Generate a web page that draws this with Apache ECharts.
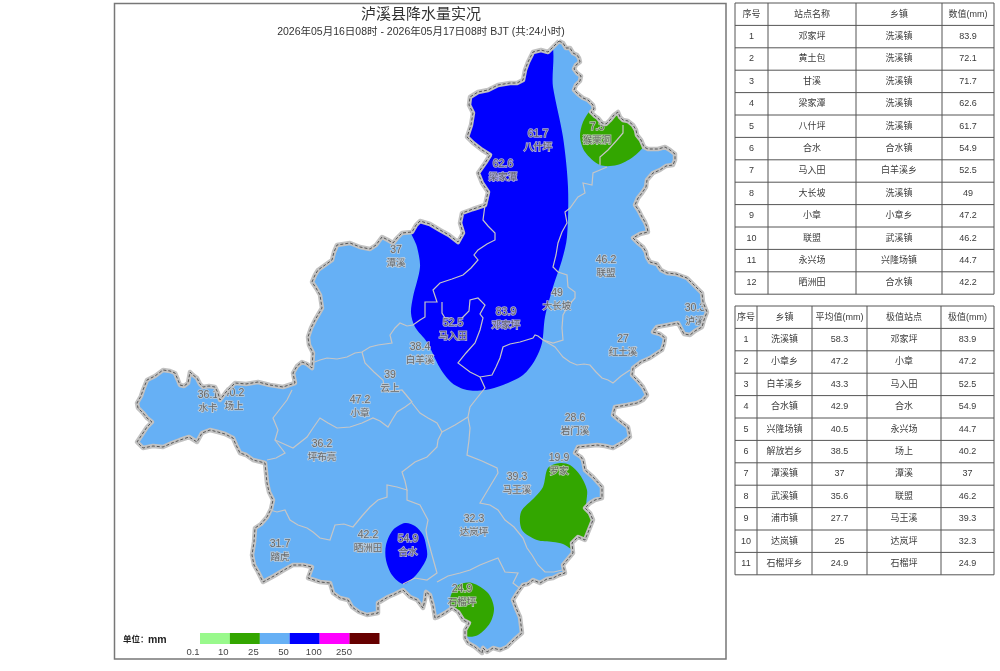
<!DOCTYPE html>
<html>
<head>
<meta charset="utf-8">
<title>泸溪县降水量实况</title>
<style>
  html, body { margin: 0; padding: 0; background: #fff; }
  #main { width: 1000px; height: 671px; }
</style>
<script src="https://cdn.jsdelivr.net/npm/echarts@6/dist/echarts.min.js"></script>
</head>
<body>
<div id="main"></div>
<script>
// 标题
var titleText = '泸溪县降水量实况';
var subTitleText = '2026年05月16日08时 - 2026年05月17日08时 BJT (共:24小时)';

// 县界
var countyLine = [[559,41],[563,43],[566,48],[570,48],[573,53],[577,55],[579,58],[580,62],[576,65],[574,69],[577,73],[581,76],[580,81],[576,85],[574,90],[578,94],[583,98],[588,100],[593,105],[594,109],[591,112],[595,116],[598,118],[602,123],[606,124],[610,120],[614,115],[618,112],[620,117],[623,120],[628,121],[633,125],[636,130],[637,135],[641,140],[644,147],[648,149],[652,149],[658,149],[665,147],[670,150],[675,154],[675,160],[673,165],[666,166],[660,170],[653,173],[647,180],[646,187],[642,193],[638,198],[635,205],[639,211],[642,217],[645,222],[647,227],[648,232],[640,234],[633,238],[638,243],[643,247],[646,252],[647,257],[650,262],[657,264],[661,270],[667,273],[676,274],[687,278],[693,284],[702,293],[703,302],[707,312],[704,320],[702,327],[695,331],[690,335],[684,334],[678,323],[668,325],[657,327],[653,332],[660,334],[665,338],[664,344],[662,350],[656,354],[650,358],[641,362],[633,368],[632,375],[638,381],[643,387],[647,395],[643,400],[637,403],[627,405],[615,407],[613,415],[620,421],[628,427],[630,437],[622,443],[613,448],[605,446],[597,445],[588,446],[578,447],[575,453],[581,457],[583,460],[585,470],[593,477],[602,487],[602,493],[602,498],[595,500],[590,503],[585,508],[590,513],[593,520],[589,530],[585,540],[578,537],[572,543],[573,553],[568,559],[563,565],[565,573],[559,575],[553,578],[547,579],[540,583],[533,580],[528,584],[523,585],[518,592],[513,600],[516,608],[520,617],[521,625],[522,633],[514,640],[507,647],[500,650],[493,648],[487,652],[483,648],[482,653],[475,647],[468,643],[465,638],[465,630],[469,623],[463,620],[458,612],[452,608],[445,613],[438,617],[435,618],[433,606],[430,595],[426,592],[425,600],[423,608],[417,600],[410,597],[403,590],[395,594],[388,597],[378,603],[378,613],[367,615],[359,612],[352,607],[348,600],[340,598],[333,593],[330,583],[320,582],[308,578],[312,567],[303,565],[293,565],[284,570],[274,576],[263,582],[258,572],[254,565],[252,555],[254,542],[255,528],[261,524],[267,517],[271,509],[273,500],[269,492],[267,483],[266,473],[265,463],[253,460],[246,455],[240,453],[236,445],[233,438],[225,434],[218,432],[210,430],[202,433],[197,442],[189,437],[180,440],[172,443],[163,447],[153,446],[143,448],[137,442],[143,433],[147,427],[152,422],[147,418],[143,413],[138,408],[137,403],[141,396],[143,390],[147,380],[155,376],[163,370],[170,371],[175,373],[178,380],[180,385],[184,386],[188,383],[190,372],[193,375],[197,378],[200,384],[203,387],[209,386],[215,387],[218,393],[220,400],[226,392],[235,383],[246,384],[258,382],[270,385],[283,387],[295,383],[293,373],[297,366],[302,362],[307,364],[312,368],[313,353],[309,345],[308,337],[311,328],[315,320],[322,308],[320,295],[316,288],[312,282],[315,275],[318,270],[325,265],[332,260],[334,252],[337,245],[350,243],[360,247],[370,249],[376,245],[382,237],[388,240],[393,243],[397,238],[402,233],[412,232],[416,225],[420,221],[430,224],[440,230],[449,235],[458,242],[463,233],[460,223],[462,213],[473,209],[485,205],[488,192],[482,183],[478,173],[485,163],[490,155],[482,150],[473,143],[467,137],[471,125],[473,113],[469,105],[470,97],[478,92],[488,90],[498,85],[510,83],[517,83],[523,80],[525,70],[528,62],[533,52],[541,50],[548,52],[554,46]];

// 乡镇界
var townLines = [
  [[607,167],[600,170],[593,173],[592,185],[583,183],[585,193],[578,197],[570,208],[565,212],[567,223],[562,232],[558,243],[556,255],[553,267],[558,272],[567,275],[568,287],[575,292],[575,298],[568,306],[563,315],[562,328],[563,340],[553,343],[543,340],[538,336],[535,335],[533,338],[520,342],[510,344],[503,347],[500,358],[496,367],[492,375],[480,377],[470,372],[458,363],[466,353],[475,343],[480,330],[483,318],[480,314],[485,305],[478,298],[470,300],[469,311],[462,318]],
  [[480,377],[485,388],[477,398],[470,407],[468,417],[470,428],[469,440],[467,455],[482,461],[497,468],[498,473],[489,488],[480,503],[490,505],[498,510],[505,520],[514,527],[523,538],[527,548],[532,555],[538,565],[545,572],[554,572],[562,570]],
  [[468,417],[455,425],[442,432],[437,423],[428,418],[420,413],[412,403]],
  [[442,432],[438,440],[437,447],[427,457],[415,462],[402,472],[405,481],[407,490],[397,487],[387,485],[387,497],[378,500],[370,507],[362,516],[353,527],[344,524],[335,525],[330,540],[320,538],[313,532],[307,528],[298,525],[290,520],[285,510],[277,512],[270,510]],
  [[407,490],[407,500],[420,505],[428,520],[426,530],[427,537],[432,555],[437,573],[427,580],[415,578],[403,584]],
  [[437,582],[448,576],[460,573],[470,570],[480,565],[490,561],[498,558],[505,572],[518,573],[513,583],[522,590]],
  [[312,363],[320,360],[327,358],[337,359],[347,357],[355,353],[362,352],[370,347],[378,345],[392,343],[390,335],[395,328],[400,323],[407,326],[413,325],[420,320],[425,317],[425,302],[437,302],[433,290],[440,283],[452,279],[463,275],[471,268],[478,260],[474,255],[478,250],[487,244],[495,240],[495,233],[488,226],[483,220],[485,205]],
  [[362,352],[365,363],[374,372],[383,380],[385,392],[394,391],[402,390],[412,402],[405,407],[397,412],[392,420],[388,427],[380,421],[373,418],[362,423],[350,427],[337,428],[328,423],[320,418],[313,428],[307,437],[293,448],[284,444],[275,440],[278,430],[273,418],[280,409],[287,400],[292,390]],
  [[275,440],[285,453],[276,458],[267,460]],
  [[442,302],[442,313],[445,318],[452,318]],
  [[543,340],[550,344],[555,347],[559,352],[563,357],[570,362],[577,365],[584,364],[590,365],[596,372],[602,378],[608,380],[613,383],[621,376],[630,370]],
  [[600,165],[600,157],[608,150],[617,140],[623,133],[623,125]]
];

// 降水落区 (等级, 边界)
var rainLevels = [3, 1, 1, 3, 1];
var rainAreas = [
  [[548,40],[553,87],[563,137],[568,187],[567,237],[562,260],[553,287],[545,317],[542,343],[535,360],[523,375],[503,385],[485,390],[467,390],[452,383],[440,368],[427,342],[415,327],[411,313],[413,297],[420,267],[417,247],[410,225],[440,190],[450,60]],
  [[592,108],[583,122],[580,137],[585,152],[600,165],[617,165],[633,157],[645,145],[670,110],[610,90]],
  [[560,463],[548,468],[543,487],[535,497],[521,512],[522,530],[537,540],[553,542],[563,544],[571,549],[590,560],[600,520],[587,508],[587,490],[580,475],[570,465]],
  [[405,523],[393,530],[386,545],[386,560],[392,575],[403,584],[412,579],[420,570],[427,557],[426,545],[423,535],[415,526]],
  [[472,583],[458,585],[451,595],[450,606],[460,625],[466,636],[478,635],[490,623],[494,608],[488,593]]
];

// 站点
var stationNames = ['八什坪','梁家潭','猴栗洞','潭溪','联盟','大长坡','泸溪','邓家坪','马入田','白羊溪','红土溪','云上','水卡','场上','小章','岩门溪','坪布亮','罗家','马王溪','达岚坪','晒洲田','合水','踏虎','石榴坪'];
var stationValues = ['61.7','62.6','7.3','37','46.2','49','30.3','83.9','52.5','38.4','27','39','36.1','40.2','47.2','28.6','36.2','19.9','39.3','32.3','42.2','54.9','31.7','24.9'];
var stationX = [538,503,597,396,606,557,695,506,453,420,623,390,208,234,360,575,322,559,517,474,368,408,280,462];
var stationY = [141,171,134,257,267,300,315,319,330,354,346,382,402,400,407,425,451,465,484,526,542,546,551,596];

// 图例
var legendColors = ['#99f98c','#33a600','#66b0f5','#0000ff','#ff00ff','#660000'];
var legendTicks = ['0.1','10','25','50','100','250'];

// 站点排名表
var stationHead = ['序号','站点名称','乡镇','数值(mm)'];
var stationRank = ['1','2','3','4','5','6','7','8','9','10','11','12'];
var stationRankName = ['邓家坪','黄土包','甘溪','梁家潭','八什坪','合水','马入田','大长坡','小章','联盟','永兴场','晒洲田'];
var stationRankTown = ['洗溪镇','洗溪镇','洗溪镇','洗溪镇','洗溪镇','合水镇','白羊溪乡','洗溪镇','小章乡','武溪镇','兴隆场镇','合水镇'];
var stationRankValue = ['83.9','72.1','71.7','62.6','61.7','54.9','52.5','49','47.2','46.2','44.7','42.2'];

// 乡镇统计表
var townHead = ['序号','乡镇','平均值(mm)','极值站点','极值(mm)'];
var townRank = ['1','2','3','4','5','6','7','8','9','10','11'];
var townName = ['洗溪镇','小章乡','白羊溪乡','合水镇','兴隆场镇','解放岩乡','潭溪镇','武溪镇','浦市镇','达岚镇','石榴坪乡'];
var townAvg = ['58.3','47.2','43.3','42.9','40.5','38.5','37','35.6','27.7','25','24.9'];
var townMaxStation = ['邓家坪','小章','马入田','合水','永兴场','场上','潭溪','联盟','马王溪','达岚坪','石榴坪'];
var townMaxValue = ['83.9','47.2','52.5','54.9','44.7','40.2','37','46.2','39.3','32.3','24.9'];

var fontName = '"Liberation Sans", "Noto Sans CJK SC", sans-serif';

// 画表格
function buildTable(xLines, yTop, rowH, rows) {
  var els = [];
  var yBottom = yTop + rowH * rows.length;
  xLines.forEach(function (x) {
    els.push({ type: 'line', shape: { x1: x, y1: yTop, x2: x, y2: yBottom }, style: { stroke: '#555', lineWidth: 1 } });
  });
  for (var r = 0; r <= rows.length; r++) {
    var y = yTop + rowH * r;
    els.push({ type: 'line', shape: { x1: xLines[0], y1: y, x2: xLines[xLines.length - 1], y2: y }, style: { stroke: '#555', lineWidth: 1 } });
  }
  rows.forEach(function (row, r) {
    row.forEach(function (txt, c) {
      els.push({
        type: 'text',
        x: (xLines[c] + xLines[c + 1]) / 2,
        y: yTop + rowH * (r + 0.5),
        style: { text: txt, align: 'center', verticalAlign: 'middle', fill: '#3a3a3a', font: '9px ' + fontName }
      });
    });
  });
  return els;
}

var stationRows = [stationHead].concat(stationRank.map(function (v, i) {
  return [v, stationRankName[i], stationRankTown[i], stationRankValue[i]];
}));
var townRows = [townHead].concat(townRank.map(function (v, i) {
  return [v, townName[i], townAvg[i], townMaxStation[i], townMaxValue[i]];
}));

// 图例
var legendEls = [];
legendColors.forEach(function (c, i) {
  legendEls.push({ type: 'rect', shape: { x: 200 + i * 29.9, y: 633, width: 30, height: 11 }, style: { fill: c } });
});
legendTicks.forEach(function (t, i) {
  legendEls.push({ type: 'text', x: 193 + i * 30.2, y: 652, style: { text: t, align: 'center', verticalAlign: 'middle', fill: '#444', font: '9.5px ' + fontName } });
});
legendEls.push({ type: 'text', x: 123, y: 640, style: { text: '单位：', align: 'left', verticalAlign: 'middle', fill: '#222', font: 'bold 8.5px ' + fontName } });
legendEls.push({ type: 'text', x: 148, y: 640, style: { text: 'mm', align: 'left', verticalAlign: 'middle', fill: '#222', font: 'bold 10.5px ' + fontName } });

// 地图图层
function pathSeries(list, type, style, extra) {
  return Object.assign({
    type: 'custom',
    coordinateSystem: 'cartesian2d',
    silent: true,
    animation: false,
    data: list.map(function (l, i) { return [i, 0]; }),
    renderItem: function (params, api) {
      var idx = api.value(0);
      var pts = list[idx].map(function (p) { return api.coord(p); });
      var s = typeof style === 'function' ? style(idx) : style;
      return { type: type, shape: { points: pts, smooth: s.smooth || 0 }, style: s.style, clipPath: s.clip ? { type: 'polygon', shape: { points: countyLine.map(function (p) { return api.coord(p); }) } } : undefined };
    }
  }, extra || {});
}

var chart = echarts.init(document.getElementById('main'), null, { renderer: 'canvas' });
chart.setOption({
  backgroundColor: '#fff',
  animation: false,
  textStyle: { fontFamily: fontName },
  title: [
    { text: titleText, left: 421, top: 7, padding: 0, textAlign: 'center', textStyle: { fontSize: 15, fontWeight: 'normal', color: '#333', fontFamily: fontName } },
    { text: subTitleText, left: 421, top: 27, padding: 0, textAlign: 'center', textStyle: { fontSize: 10.5, fontWeight: 'normal', color: '#333', fontFamily: fontName } }
  ],
  grid: { left: 0, right: 0, top: 0, bottom: 0 },
  xAxis: { type: 'value', min: 0, max: 1000, show: false },
  yAxis: { type: 'value', min: 0, max: 671, inverse: true, show: false },
  series: [
    pathSeries([countyLine], 'polygon', { style: { fill: legendColors[2] } }),
    pathSeries(rainAreas, 'polygon', function (i) {
      return { smooth: 0.3, clip: true, style: { fill: legendColors[rainLevels[i]] } };
    }),
    pathSeries(townLines, 'polyline', { style: { fill: null, stroke: '#c6c6c6', lineWidth: 1.2 } }),
    {
      type: 'scatter',
      symbolSize: 1,
      itemStyle: { color: 'transparent' },
      silent: true,
      data: stationX.map(function (x, i) { return [x, stationY[i], stationValues[i], stationNames[i]]; }),
      label: {
        show: true,
        position: 'inside',
        formatter: function (p) { return '{v|' + p.data[2] + '}\n{n|' + p.data[3] + '}'; },
        rich: {
          v: { fontSize: 10.5, lineHeight: 13, color: '#4f4f4f', textBorderColor: '#d2d2d2', textBorderWidth: 1.6, fontFamily: fontName },
          n: { fontSize: 9.5, lineHeight: 13, color: '#4f4f4f', textBorderColor: '#d2d2d2', textBorderWidth: 1.6, fontFamily: fontName }
        }
      }
    },
    pathSeries([countyLine.concat([countyLine[0]])], 'polyline', { style: { fill: null, stroke: '#c2c2c2', lineWidth: 4.5, lineJoin: 'round' } }, { zlevel: 1 }),
    pathSeries([countyLine.concat([countyLine[0]])], 'polyline', { style: { fill: null, stroke: '#4a4a4a', lineWidth: 0.9, lineDash: [3, 2] } }, { zlevel: 1, z: 3 })
  ],
  graphic: [
    { type: 'rect', shape: { x: 114.5, y: 3.5, width: 611.5, height: 655.5 }, style: { fill: null, stroke: '#777', lineWidth: 1.5 } }
  ].concat(legendEls)
    .concat(buildTable([735, 768, 856, 942, 994], 3, 22.4, stationRows))
    .concat(buildTable([735, 757, 812, 867, 941, 994], 306, 22.4, townRows))
});
</script>
</body>
</html>
